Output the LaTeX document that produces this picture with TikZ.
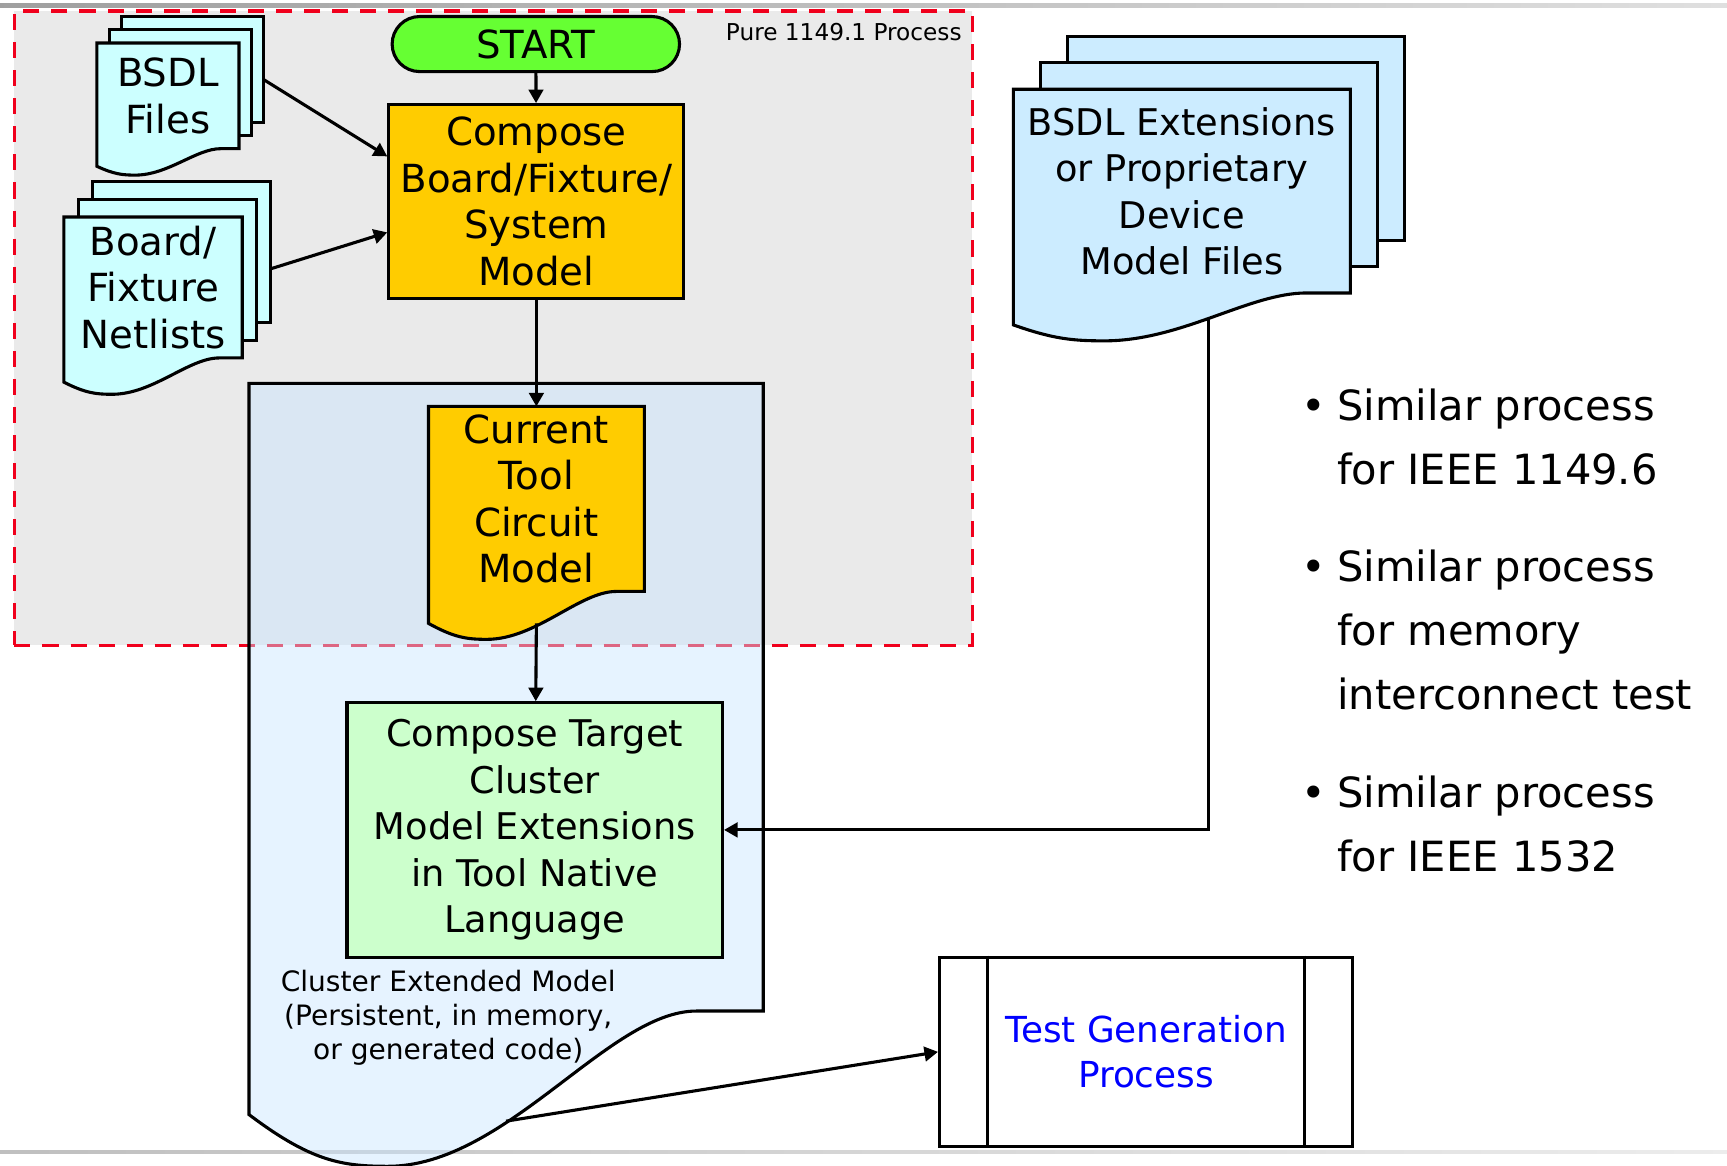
\documentclass[tikz,border=0pt]{standalone}
\usepackage{fontspec}
\setmainfont{DejaVu Sans}
\usetikzlibrary{arrows.meta,calc,positioning}
\definecolor{StartGreen}{HTML}{66FF33}
\definecolor{BoxOrange}{HTML}{FFCC00}
\definecolor{FileCyan}{HTML}{CCFFFF}
\definecolor{ExtBlue}{HTML}{CCECFF}
\definecolor{NativeGreen}{HTML}{CCFFCC}
\definecolor{ClusterBlue}{HTML}{C8E4FF}
\definecolor{PureGray}{HTML}{EAEAEA}
\definecolor{FrameRed}{HTML}{F0001C}
\definecolor{LinkBlue}{HTML}{0000FF}

\tikzset{
  boxline/.style={draw=black, line width=1.6pt},
  holder/.style={inner sep=0, outer sep=0},
  sheet/.style={boxline, inner sep=0, outer sep=0},
  flow/.style={line width=1.6pt, -{Triangle[length=7pt,width=7.5pt]}},
  bigtext/.style={font=\fontsize{20}{24}\selectfont, align=center},
  bullets/.style={anchor=west, inner sep=0, font=\fontsize{21.5}{33}\selectfont}
}

% document outline round a holder node: #1 node, #2 drop of the left corner, #3 options
\newcommand{\docwave}[3]{%
  \path[#3] let \p1=(#1.south west), \p2=(#1.south east), \n1={\x2-\x1}, \n2={#2} in
    (#1.north west) -- (#1.north east) -- (\p2) -- (\x1+0.87*\n1,\y2)
    .. controls (\x1+0.7*\n1,\y2) and (\x1+0.5*\n1,\y2-1.5*\n2) .. (\x1+0.27*\n1,\y2-1.5*\n2)
    .. controls (\x1+0.18*\n1,\y2-1.5*\n2) and (\x1+0.12*\n1,\y2-1.45*\n2) .. (\x1,\y2-\n2) -- cycle;}

\begin{document}
\begin{tikzpicture}[x=0.02cm, y=-0.02cm]
  \useasboundingbox (0,0) rectangle (1568,1058);
  \shade[left color=gray!75, right color=gray!25] (0,3.5) rectangle (1568,6.5);
  \shade[left color=gray!50, right color=gray!15] (0,1044.5) rectangle (1568,1047.5);

  \node[fill=PureGray, draw=FrameRed, dash pattern=on 8.3pt off 6.2pt, line width=1.8pt, minimum width=17.4cm, minimum height=11.52cm, inner sep=0] (pure) at (448,298) {};
  \node[anchor=north east, inner sep=0, font=\fontsize{12}{14}\selectfont] (purelbl) at ([xshift=-0.22cm, yshift=-0.24cm]pure.north east) {Pure 1149.1 Process};

  \node[holder, minimum width=9.34cm, minimum height=11.4cm] (cem) at (459.5,633) {};
  \docwave{cem}{1.88cm}{boxline, fill=ClusterBlue, fill opacity=0.45}
  \node[align=center, font=\fontsize{14.5}{17.6}\selectfont] (cemlbl) at (407,924) {Cluster Extended Model\\(Persistent, in memory,\\or generated code)};

  \node[boxline, fill=StartGreen, rounded corners=0.5cm, minimum width=5.22cm, minimum height=1cm, inner sep=0, bigtext] (start) at (486.5,40) {START};
  \node[boxline, fill=BoxOrange, minimum width=5.36cm, minimum height=3.52cm, inner sep=0, bigtext] (compose) at (487,183) {Compose\\Board/Fixture/\\System\\Model};

  \node[holder, minimum width=2.58cm, minimum height=1.92cm] (bsdl) at (152.5,87) {};
  \node[sheet, fill=FileCyan, minimum width=2.58cm, minimum height=1.92cm] (bsdl3) at ([shift={(0.44cm,0.48cm)}]bsdl.center) {};
  \node[sheet, fill=FileCyan, minimum width=2.58cm, minimum height=1.92cm] (bsdl2) at ([shift={(0.22cm,0.24cm)}]bsdl.center) {};
  \docwave{bsdl}{0.32cm}{boxline, fill=FileCyan}
  \node[bigtext] (bsdltext) at (bsdl.center) {BSDL\\Files};

  \node[holder, minimum width=3.24cm, minimum height=2.56cm] (net) at (139,261) {};
  \node[sheet, fill=FileCyan, minimum width=3.24cm, minimum height=2.56cm] (net3) at ([shift={(0.52cm,0.64cm)}]net.center) {};
  \node[sheet, fill=FileCyan, minimum width=3.24cm, minimum height=2.56cm] (net2) at ([shift={(0.26cm,0.32cm)}]net.center) {};
  \docwave{net}{0.44cm}{boxline, fill=FileCyan}
  \node[bigtext] (nettext) at (net.center) {Board/\\Fixture\\Netlists};

  \node[holder, minimum width=6.12cm, minimum height=3.7cm] (ext) at (1073,173.5) {};
  \node[sheet, fill=ExtBlue, minimum width=6.12cm, minimum height=3.7cm] (ext3) at ([shift={(0.98cm,0.96cm)}]ext.center) {};
  \node[sheet, fill=ExtBlue, minimum width=6.12cm, minimum height=3.7cm] (ext2) at ([shift={(0.49cm,0.48cm)}]ext.center) {};
  \docwave{ext}{0.58cm}{boxline, fill=ExtBlue}
  \node[align=center, font=\fontsize{19}{24}\selectfont] (exttext) at (ext.center) {BSDL Extensions\\or Proprietary\\Device\\Model Files};

  \node[holder, minimum width=3.92cm, minimum height=3.36cm] (cur) at (487,453) {};
  \docwave{cur}{0.58cm}{boxline, fill=BoxOrange}
  \node[bigtext] (curtext) at (cur.center) {Current\\Tool\\Circuit\\Model};

  \node[boxline, fill=NativeGreen, minimum width=6.82cm, minimum height=4.62cm, inner sep=0, align=center, font=\fontsize{19}{24}\selectfont] (native) at (485.5,753.5) {Compose Target\\Cluster\\Model Extensions\\in Tool Native\\Language};

  \node[boxline, fill=white, minimum width=7.5cm, minimum height=3.44cm, inner sep=0, text=LinkBlue, align=center, font=\fontsize{18.5}{23.3}\selectfont] (testgen) at (1040.5,955) {Test Generation\\Process};
  \draw[boxline] ([xshift=0.9cm]testgen.north west) -- ([xshift=0.9cm]testgen.south west)
    ([xshift=-0.9cm]testgen.north east) -- ([xshift=-0.9cm]testgen.south east);

  \node[bullets] (sim1) at (1181,399) {\begin{tabular}{@{}l@{\hspace{6pt}}l@{}}\textbullet & Similar process\\ & for IEEE 1149.6\end{tabular}};
  \node[bullets, below=0.6cm of sim1.south west, anchor=north west] (sim2) {\begin{tabular}{@{}l@{\hspace{6pt}}l@{}}\textbullet & Similar process\\ & for memory\\ & interconnect test\end{tabular}};
  \node[bullets, below=0.6cm of sim2.south west, anchor=north west] (sim3) {\begin{tabular}{@{}l@{\hspace{6pt}}l@{}}\textbullet & Similar process\\ & for IEEE 1532\end{tabular}};

  \draw[flow] (start) -- (compose);
  \draw[flow] ([yshift=-0.18cm]bsdl3.east) -- ([yshift=0.82cm]compose.west);
  \draw[flow] ([yshift=-0.3cm]net3.east) -- ([yshift=-0.56cm]compose.west);
  \draw[flow] (compose) -- (cur);
  \draw[flow] ([yshift=-0.58cm]cur.south) -- (native);
  \draw[flow] ([shift={(0.48cm,-0.46cm)}]ext.south) |- (native);
  \draw[flow] ([yshift=-2.0cm]cem.south) -- (testgen.west);
\end{tikzpicture}
\end{document}
